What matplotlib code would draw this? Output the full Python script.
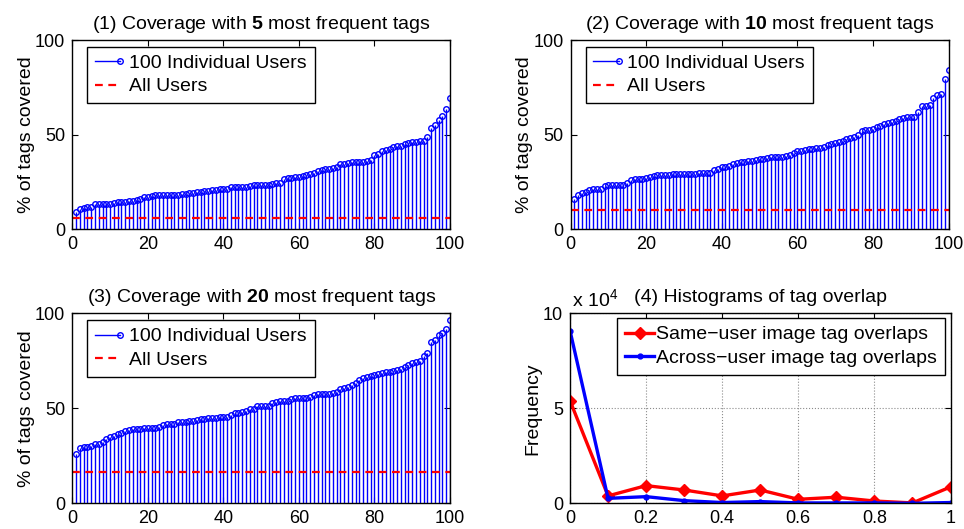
import numpy as np
import matplotlib
matplotlib.use("Agg")
import matplotlib.pyplot as plt
from matplotlib.legend_handler import HandlerBase
from matplotlib.lines import Line2D
from matplotlib.ticker import FuncFormatter

plt.rcParams["font.family"] = ["Liberation Sans", "DejaVu Sans"]
plt.rcParams["mathtext.fontset"] = "custom"
plt.rcParams["mathtext.rm"] = "Liberation Sans"
plt.rcParams["mathtext.bf"] = "Liberation Sans:bold"
FS = 14

# Coverage (%) per user, sorted ascending, for top-5 / top-10 / top-20 tags
users = np.arange(1, 101)

cov_top5 = [
    9.2, 10.6, 11.4, 11.6, 11.6, 13.2, 13.4, 13.4, 13.4, 13.6,
    13.9, 14.3, 14.4, 14.6, 14.8, 15.2, 15.3, 15.9, 16.9, 17.3,
    17.4, 18.1, 18.1, 18.1, 18.1, 18.1, 18.1, 18.3, 18.5, 18.5,
    19.0, 19.2, 19.5, 19.7, 20.1, 20.4, 20.6, 20.8, 21.2, 21.2,
    21.3, 22.2, 22.4, 22.4, 22.6, 22.6, 23.1, 23.3, 23.4, 23.4,
    23.4, 23.4, 24.1, 24.5, 24.5, 26.5, 27.0, 27.0, 27.5, 27.7,
    28.2, 28.7, 29.1, 29.6, 30.8, 31.4, 31.9, 32.1, 32.3, 33.0,
    34.4, 34.7, 34.9, 35.3, 35.4, 35.6, 35.8, 36.1, 36.5, 39.0,
    39.8, 41.1, 42.0, 42.5, 43.6, 43.9, 44.1, 45.0, 45.7, 46.0,
    46.2, 46.4, 46.7, 48.8, 53.4, 55.2, 58.0, 59.6, 63.7, 69.3,
]
cov_top10 = [
    15.9, 18.1, 19.0, 19.7, 20.8, 21.2, 21.2, 21.2, 22.9, 23.3,
    23.3, 23.3, 23.3, 23.4, 24.3, 26.1, 26.4, 26.6, 26.8, 27.3,
    27.8, 28.2, 28.6, 28.6, 28.6, 28.9, 29.1, 29.3, 29.3, 29.3,
    29.3, 29.3, 29.4, 29.6, 29.6, 29.6, 29.9, 31.4, 32.1, 32.8,
    33.1, 33.7, 34.6, 34.9, 35.4, 35.8, 36.0, 36.3, 36.7, 37.2,
    37.4, 37.7, 38.1, 38.1, 38.1, 38.3, 38.8, 39.3, 40.2, 41.4,
    41.4, 41.8, 42.3, 42.6, 42.9, 43.2, 43.7, 44.6, 45.1, 45.7,
    46.0, 46.7, 47.6, 48.1, 48.7, 49.9, 51.9, 52.4, 52.5, 53.1,
    54.3, 54.8, 55.7, 56.1, 56.9, 57.3, 58.4, 58.7, 59.1, 59.1,
    59.4, 61.9, 64.9, 65.2, 65.4, 69.6, 70.9, 71.4, 79.4, 84.3,
]
cov_top20 = [
    25.8, 28.9, 29.5, 29.8, 30.3, 31.0, 31.2, 32.3, 33.9, 34.7,
    35.6, 36.3, 36.8, 38.1, 38.6, 38.9, 39.1, 39.3, 39.5, 39.6,
    39.6, 39.8, 40.3, 41.2, 41.7, 41.7, 41.7, 42.6, 42.8, 42.8,
    43.2, 43.5, 43.8, 44.2, 44.2, 44.7, 45.1, 45.1, 45.3, 45.3,
    45.6, 46.5, 47.4, 47.7, 48.1, 48.8, 49.5, 49.6, 51.2, 51.2,
    51.2, 51.4, 52.6, 53.5, 53.9, 53.9, 53.9, 54.8, 55.3, 55.6,
    55.6, 55.6, 56.1, 57.0, 57.4, 57.4, 57.5, 57.5, 57.9, 58.8,
    60.0, 60.5, 61.4, 62.3, 63.5, 64.9, 65.8, 66.7, 67.0, 67.4,
    68.1, 68.6, 68.9, 69.3, 69.6, 70.2, 70.7, 71.9, 72.8, 74.0,
    74.5, 74.9, 77.5, 78.9, 85.1, 85.9, 88.6, 89.8, 92.0, 96.5,
]
all_users = [6.1, 10.0, 16.5]
n_tags = [5, 10, 20]

# Histogram of tag overlap
overlap_bins = [0.0, 0.1, 0.2, 0.3, 0.4, 0.5, 0.6, 0.7, 0.8, 0.9, 1.0]
same_user = [54000, 3900, 9300, 7000, 3900, 7000, 2100, 3200, 1200, 200, 8600]
across_user = [90900, 2600, 3500, 1400, 400, 900, 200, 200, 200, 0, 400]


class StemHandler(HandlerBase):
    """Legend entry like MATLAB's stem: a line with a circle at its right end."""

    def create_artists(self, legend, orig_handle, xdescent, ydescent,
                       width, height, fontsize, trans):
        y = height / 2 - ydescent
        line = Line2D([-xdescent, width - xdescent], [y, y],
                      color="blue", lw=1.0)
        mark = Line2D([width - xdescent], [y], marker="o", mfc="none",
                      mec="blue", ms=4, mew=1.0, lw=0)
        line.set_transform(trans)
        mark.set_transform(trans)
        return [line, mark]


def style_axes(ax):
    ax.tick_params(direction="in", top=True, right=True, length=4,
                   width=0.8, labelsize=13, pad=5)
    for sp in ax.spines.values():
        sp.set_linewidth(1.0)


def coverage_panel(ax, values, baseline, k, num):
    markerline, stemlines, _ = ax.stem(users, values, linefmt="b-",
                                       markerfmt="bo", basefmt=" ")
    markerline.set_markerfacecolor("none")
    markerline.set_markersize(4)
    markerline.set_markeredgewidth(1.0)
    stemlines.set_linewidth(1.0)
    dash = ax.axhline(baseline, color="red", lw=1.6)
    dash.set_dashes((3.5, 2.5))
    ax.set_xlim(0, 100)
    ax.set_ylim(0, 100)
    ax.set_xticks([0, 20, 40, 60, 80, 100])
    ax.set_yticks([0, 50, 100])
    ax.set_ylabel("% of tags covered", fontsize=FS, labelpad=0)
    ax.set_title(rf"({num}) Coverage with $\mathbf{{{k}}}$ most frequent tags",
                 fontsize=FS, pad=8)
    stem_handle = Line2D([], [], color="blue")
    ax.legend([stem_handle, dash], ["100 Individual Users", "All Users"],
              handler_map={stem_handle: StemHandler()},
              loc="upper left", bbox_to_anchor=(0.04, 0.965),
              fancybox=False, edgecolor="black", framealpha=1,
              fontsize=FS, handlelength=1.3, handletextpad=0.45,
              borderpad=0.4, labelspacing=0.3, borderaxespad=0)
    style_axes(ax)


fig = plt.figure(figsize=(9.64, 5.29), dpi=100)
W, H = 964, 529


def add_axes_px(left, top, right, bottom):
    return fig.add_axes([left / W, (H - bottom) / H,
                         (right - left) / W, (bottom - top) / H])


ax1 = add_axes_px(72.3, 40, 450, 229.3)
ax2 = add_axes_px(570.5, 40, 948.5, 229.3)
ax3 = add_axes_px(72.3, 313.3, 450, 503.3)
ax4 = add_axes_px(570, 313.3, 950.5, 503.3)

coverage_panel(ax1, cov_top5, all_users[0], n_tags[0], 1)
coverage_panel(ax2, cov_top10, all_users[1], n_tags[1], 2)
coverage_panel(ax3, cov_top20, all_users[2], n_tags[2], 3)

# Panel 4: histograms of tag overlap
ax4.plot(overlap_bins, same_user, color="red", lw=2.4, marker="D",
         ms=6, label="Same\u2212user image tag overlaps")
ax4.plot(overlap_bins, across_user, color="blue", lw=2.4, marker="o",
         ms=3.5, label="Across\u2212user image tag overlaps")
ax4.set_xlim(0, 1)
ax4.set_ylim(0, 100000)
ax4.set_xticks([0, 0.2, 0.4, 0.6, 0.8, 1])
ax4.xaxis.set_major_formatter(FuncFormatter(lambda v, p: f"{v:g}"))
ax4.set_yticks([0, 50000, 100000])
ax4.yaxis.set_major_formatter(FuncFormatter(lambda v, p: f"{v / 1e4:g}"))
ax4.grid(True, linestyle=":", color="0.55", lw=0.8)
ax4.set_ylabel("Frequency", fontsize=FS, labelpad=1)
ax4.set_title("(4) Histograms of tag overlap", fontsize=FS, pad=8)
ax4.text(0.005, 1.01, r"x 10$^{4}$", transform=ax4.transAxes,
         fontsize=FS, ha="left", va="bottom")
ax4.legend(loc="upper right", bbox_to_anchor=(0.985, 0.975),
           fancybox=False, edgecolor="black", framealpha=1, fontsize=FS,
           handlelength=1.5, handletextpad=0.1, borderpad=0.4,
           labelspacing=0.3, borderaxespad=0, numpoints=1)
style_axes(ax4)

fig.savefig("out.png", dpi=100)
